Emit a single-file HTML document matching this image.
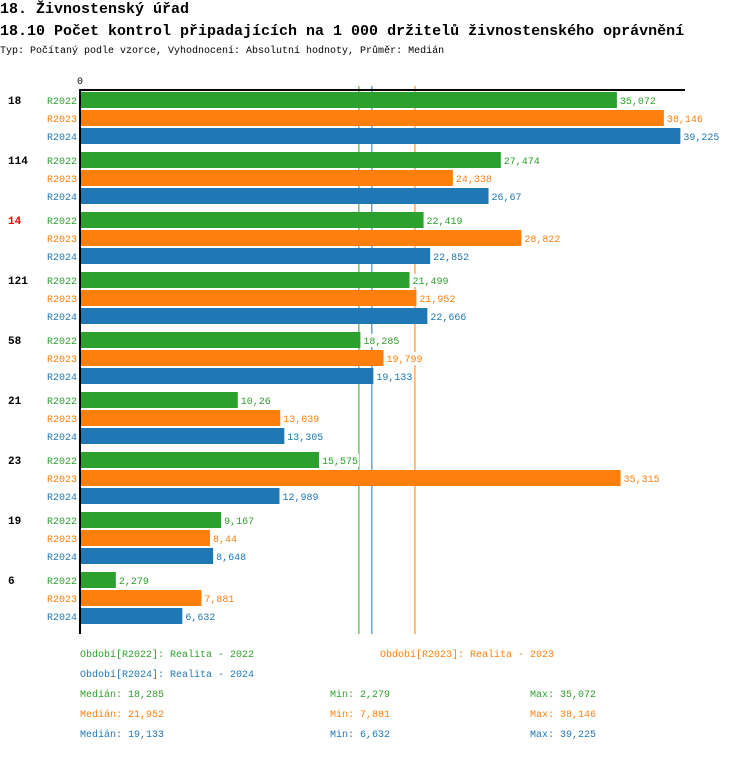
<!DOCTYPE html>
<html><head><meta charset="utf-8">
<style>
body{margin:0;background:#fff;width:750px;height:752px;overflow:hidden;font-family:"Liberation Mono",monospace;}
svg text{font-family:"Liberation Mono","DejaVu Sans Mono",monospace;}
</style></head>
<body>
<svg id="chart" width="750" height="752" xmlns="http://www.w3.org/2000/svg">
<text x="0" y="13" font-size="15" font-weight="bold">18. Živnostenský úřad</text>
<text x="0" y="35" font-size="15" font-weight="bold">18.10 Počet kontrol připadajících na 1 000 držitelů živnostenského oprávnění</text>
<text x="0" y="53" font-size="10">Typ: Počítaný podle vzorce, Vyhodnocení: Absolutní hodnoty, Průměr: Medián</text>
<g id="medians"></g>
<g id="bars"></g>
<g id="legend"></g>
</svg>
<script>
const categories = ["18","114","14","121","58","21","23","19","6"];
const seriesNames = ["R2022","R2023","R2024"];
const r2022 = [35.072,27.474,22.419,21.499,18.285,10.26,15.575,9.167,2.279];
const r2023 = [38.146,24.338,28.822,21.952,19.799,13.039,35.315,8.44,7.881];
const r2024 = [39.225,26.67,22.852,22.666,19.133,13.305,12.989,8.648,6.632];
const labels2022 = ["35,072","27,474","22,419","21,499","18,285","10,26","15,575","9,167","2,279"];
const labels2023 = ["38,146","24,338","28,822","21,952","19,799","13,039","35,315","8,44","7,881"];
const labels2024 = ["39,225","26,67","22,852","22,666","19,133","13,305","12,989","8,648","6,632"];
const medians = [18.285,21.952,19.133];
const medianLabels = ["18,285","21,952","19,133"];
const minLabels = ["2,279","7,881","6,632"];
const maxLabels = ["35,072","38,146","39,225"];
const highlighted = ["14"];

const colors=["#2ca02c","#ff7f0e","#1f77b4"];
const NS="http://www.w3.org/2000/svg";
const X0=81, SCALE=15.28;
const xs=v=>X0+v*SCALE;
const groupY=i=>92+i*60;
function mk(tag,attrs,parent,txt){const e=document.createElementNS(NS,tag);for(const k in attrs)e.setAttribute(k,attrs[k]);if(txt!==undefined)e.textContent=txt;parent.appendChild(e);return e;}
const gm=document.getElementById('medians'),gb=document.getElementById('bars'),gl=document.getElementById('legend');
const data=[r2022,r2023,r2024], labs=[labels2022,labels2023,labels2024];
const bottom=634;
medians.forEach((m,s)=>{
  const l=mk('line',{x1:xs(m)-1.5,x2:xs(m)-1.5,y1:86,y2:bottom,stroke:colors[s],'stroke-width':1},gm);
  
  
});
const ax=mk('line',{x1:79,x2:685,y1:90,y2:90,stroke:'#000','stroke-width':2},gb);


const ay=mk('line',{x1:80,x2:80,y1:89,y2:bottom,stroke:'#000','stroke-width':2},gb);


const z=mk('text',{x:80,y:84,'font-size':10,'text-anchor':'middle'},gb,'0');


categories.forEach((c,i)=>{
  const y=groupY(i);
  const t=mk('text',{x:8,y:y+12,'font-size':11,'font-weight':'bold',fill:highlighted.includes(c)?'#ff0000':'#000'},gb,c);
  
  
  data.forEach((arr,s)=>{
    const by=y+s*18;
    const sl=mk('text',{x:47,y:by+12,'font-size':10,fill:colors[s]},gb,seriesNames[s]);
    
    
    const r=mk('rect',{x:X0,y:by,width:xs(arr[i])-X0,height:16,fill:colors[s]},gb);
    
    
    const tw=labs[s][i].length*6+2;
    const bg=mk('rect',{x:xs(arr[i])+2,y:by+2,width:tw,height:13,fill:'#fff'},gb);
    
    
    const vl=mk('text',{x:xs(arr[i])+3,y:by+12,'font-size':10,fill:colors[s]},gb,labs[s][i]);
    
    
  });
});
const legPos=[[80,657],[380,657],[80,677]];
seriesNames.forEach((n,s)=>{
  const t=mk('text',{x:legPos[s][0],y:legPos[s][1],'font-size':10,fill:colors[s]},gl,'Období['+n+']: Realita - '+n.slice(1));
  
  
  const y=697+s*20;
  const a=mk('text',{x:80,y:y,'font-size':10,fill:colors[s]},gl,'Medián: '+medianLabels[s]);
  
  
  const b=mk('text',{x:330,y:y,'font-size':10,fill:colors[s]},gl,'Min: '+minLabels[s]);
  
  
  const d=mk('text',{x:530,y:y,'font-size':10,fill:colors[s]},gl,'Max: '+maxLabels[s]);
  
  
});
</script>
</body></html>
